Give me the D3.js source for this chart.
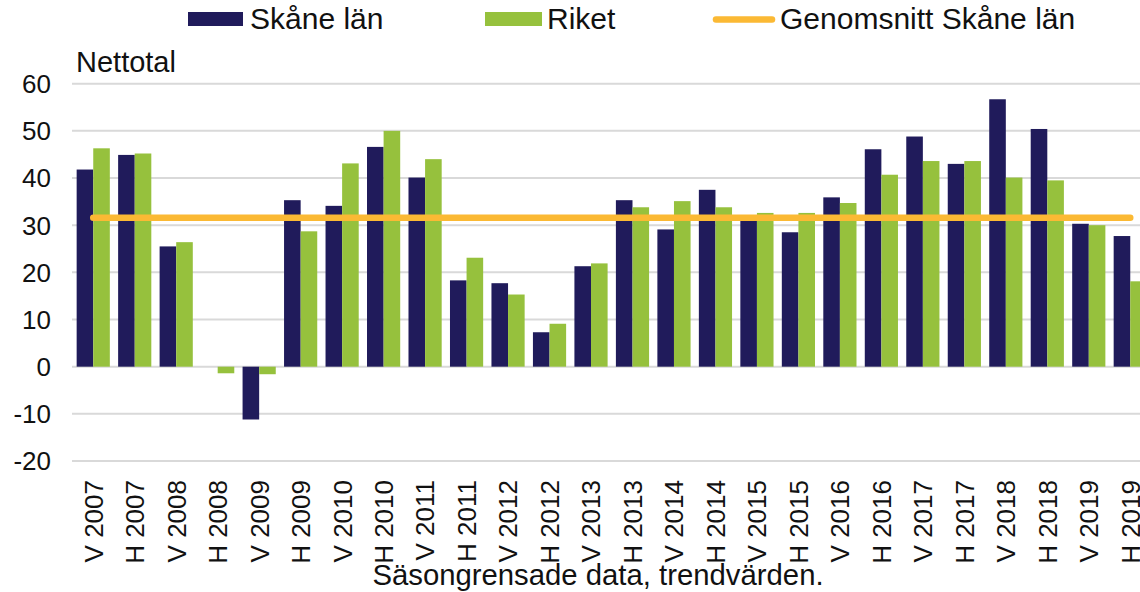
<!DOCTYPE html>
<html>
<head>
<meta charset="utf-8">
<script src="https://cdn.jsdelivr.net/npm/d3@7"></script>
<style>
  html, body { margin: 0; padding: 0; background: #fff; }
  svg { display: block; font-family: "Liberation Sans", Arial, sans-serif; }
</style>
</head>
<body>
<svg id="chart" width="1140" height="592"></svg>
<script>
const categories = ["V 2007","H 2007","V 2008","H 2008","V 2009","H 2009","V 2010","H 2010","V 2011","H 2011","V 2012","H 2012","V 2013","H 2013","V 2014","H 2014","V 2015","H 2015","V 2016","H 2016","V 2017","H 2017","V 2018","H 2018","V 2019","H 2019"];
const skane = [41.8,44.9,25.5,0,-11.2,35.3,34.1,46.6,40.1,18.3,17.7,7.3,21.3,35.3,29.1,37.5,31.8,28.5,35.9,46.1,48.8,43.0,56.7,50.4,30.3,27.7];
const riket = [46.3,45.2,26.4,-1.4,-1.6,28.7,43.1,50.0,44.0,23.1,15.3,9.1,21.9,33.8,35.1,33.8,32.6,32.6,34.7,40.7,43.6,43.6,40.1,39.5,30.0,18.1];
const genomsnitt = [31.6,31.6,31.6,31.6,31.6,31.6,31.6,31.6,31.6,31.6,31.6,31.6,31.6,31.6,31.6,31.6,31.6,31.6,31.6,31.6,31.6,31.6,31.6,31.6,31.6,31.6];
const yTicks = [-20,-10,0,10,20,30,40,50,60];
const seriesNames = ["Skåne län","Riket","Genomsnitt Skåne län"];
const yAxisTitle = "Nettotal";
const xAxisTitle = "Säsongrensade data, trendvärden.";

const colDark = "#201B5B", colGreen = "#96C13D", colOrange = "#FBB934", colGrid = "#D9D9D9";

const svg = d3.select("#chart");

const x = d3.scaleBand().domain(categories).range([72.5, 1151]).paddingInner(0.2).paddingOuter(0.1);
const xs = d3.scaleBand().domain(["s","r"]).range([0, x.bandwidth()]);
const y = d3.scaleLinear().domain([-20, 60]).range([461, 83.7]);

// gridlines
svg.append("g").selectAll("line").data(yTicks).join("line")
  .attr("x1", 72).attr("x2", 1140)
  .attr("y1", d => y(d)).attr("y2", d => y(d))
  .attr("stroke", colGrid).attr("stroke-width", 2);

// y tick labels
svg.append("g").selectAll("text").data(yTicks).join("text")
  .attr("x", 51).attr("y", d => y(d)).attr("dy", "0.36em")
  .attr("text-anchor", "end").attr("font-size", 26).attr("fill", "#111")
  .text(d => d);

// bars
const bars = svg.append("g");
bars.selectAll("rect.s").data(categories).join("rect").attr("class","s")
  .attr("x", (c) => x(c) + xs("s")).attr("width", xs.bandwidth())
  .attr("y", (c, i) => y(Math.max(0, skane[i])))
  .attr("height", (c, i) => Math.abs(y(skane[i]) - y(0)))
  .attr("fill", colDark);
bars.selectAll("rect.r").data(categories).join("rect").attr("class","r")
  .attr("x", (c) => x(c) + xs("r")).attr("width", xs.bandwidth())
  .attr("y", (c, i) => y(Math.max(0, riket[i])))
  .attr("height", (c, i) => Math.abs(y(riket[i]) - y(0)))
  .attr("fill", colGreen);

// average line
const line = d3.line().x((d, i) => x(categories[i]) + x.bandwidth() / 2).y(d => y(d));
svg.append("path").datum(genomsnitt).attr("d", line)
  .attr("fill", "none").attr("stroke", colOrange).attr("stroke-width", 6.5).attr("stroke-linecap", "round");

// x labels
svg.append("g").selectAll("text").data(categories).join("text")
  .attr("transform", c => `translate(${x(c) + x.bandwidth() / 2},480) rotate(-90)`)
  .attr("dy", "0.36em").attr("text-anchor", "end").attr("font-size", 26).attr("fill", "#111")
  .text(c => c);

// axis titles
svg.append("text").attr("x", 76).attr("y", 72).attr("font-size", 29).attr("fill", "#111").text(yAxisTitle);
svg.append("text").attr("x", 598).attr("y", 585).attr("text-anchor", "middle").attr("font-size", 29.3).attr("fill", "#111").text(xAxisTitle);

// legend
const lg = svg.append("g");
lg.append("rect").attr("x", 188).attr("y", 12).attr("width", 55).attr("height", 14).attr("fill", colDark);
lg.append("text").attr("x", 250).attr("y", 29).attr("font-size", 30).attr("fill", "#111").text(seriesNames[0]);
lg.append("rect").attr("x", 485).attr("y", 12).attr("width", 57).attr("height", 14).attr("fill", colGreen);
lg.append("text").attr("x", 547).attr("y", 29).attr("font-size", 30).attr("fill", "#111").text(seriesNames[1]);
lg.append("line").attr("x1", 716).attr("x2", 772).attr("y1", 19.5).attr("y2", 19.5)
  .attr("stroke", colOrange).attr("stroke-width", 6.5).attr("stroke-linecap", "round");
lg.append("text").attr("x", 780).attr("y", 29).attr("font-size", 30).attr("fill", "#111").text(seriesNames[2]);
</script>
</body>
</html>
